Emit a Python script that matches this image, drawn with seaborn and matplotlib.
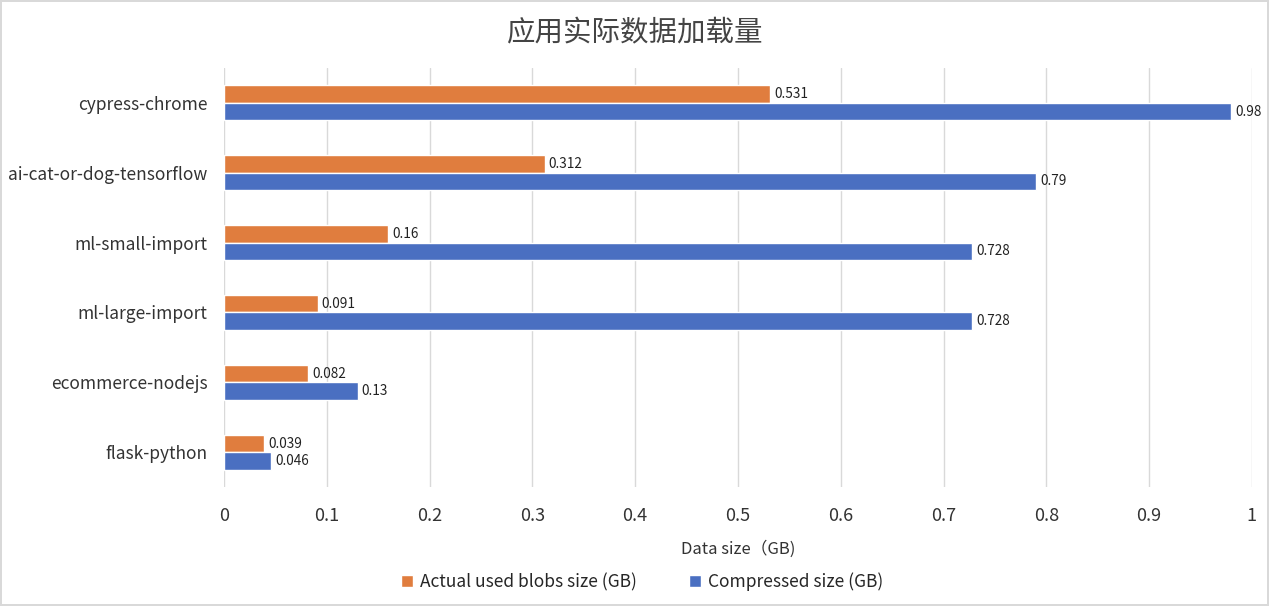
import matplotlib
matplotlib.use("Agg")
import matplotlib.pyplot as plt
import pandas as pd
import seaborn as sns

apps = ["cypress-chrome", "ai-cat-or-dog-tensorflow", "ml-small-import",
        "ml-large-import", "ecommerce-nodejs", "flask-python"]
actual_used = [0.531, 0.312, 0.16, 0.091, 0.082, 0.039]
compressed = [0.98, 0.79, 0.728, 0.728, 0.13, 0.046]
series = ["Actual used blobs size (GB)", "Compressed size (GB)"]
x_ticks = [0, 0.1, 0.2, 0.3, 0.4, 0.5, 0.6, 0.7, 0.8, 0.9, 1]
x_tick_labels = ["0", "0.1", "0.2", "0.3", "0.4", "0.5", "0.6", "0.7", "0.8", "0.9", "1"]

df = pd.DataFrame({
    "app": apps * 2,
    "size": actual_used + compressed,
    "series": [series[0]] * len(apps) + [series[1]] * len(apps),
})

sns.set_theme(style="white")
plt.rcParams["font.family"] = ["Noto Sans CJK SC", "DejaVu Sans"]

fig = plt.figure(figsize=(12.69, 6.06), dpi=100)
fig.patch.set_edgecolor("#d9d9d9")
fig.patch.set_linewidth(1.5)
ax = fig.add_axes([0.1765, 0.196, 0.81, 0.692])

sns.barplot(data=df, y="app", x="size", hue="series", order=apps,
            hue_order=series, palette=["#E07D3E", "#4A6FC1"], width=0.5,
            orient="h", ax=ax, legend=True, saturation=1)

for cont in ax.containers:
    ax.bar_label(cont, labels=[f"{v:g}" for v in cont.datavalues],
                 padding=3, fontsize=9.8, color="#222222")

ax.set_xlim(0, 1)
ax.set_xticks(x_ticks)
ax.set_xticklabels(x_tick_labels)
ax.xaxis.grid(True, color="#d9d9d9", linewidth=1)
ax.set_axisbelow(True)
for s in ax.spines.values():
    s.set_visible(False)
ax.tick_params(axis="both", length=0, colors="#333333")
ax.tick_params(axis="x", pad=14, labelsize=13)
ax.tick_params(axis="y", pad=12, labelsize=12.5)
ax.set_ylabel("")
ax.set_xlabel("Data size（GB)", fontsize=12, color="#333333", labelpad=11)

fig.suptitle("应用实际数据加载量", fontsize=20.5, color="#444444", y=0.97)

handles, labels = ax.get_legend_handles_labels()
ax.legend_.remove()
fig.legend(handles, labels, loc="center", bbox_to_anchor=(0.506, 0.04), ncol=2,
           frameon=False, fontsize=12.5, handlelength=0.7, handleheight=0.7,
           columnspacing=3.0, handletextpad=0.4)

fig.savefig("out.png", dpi=100)
